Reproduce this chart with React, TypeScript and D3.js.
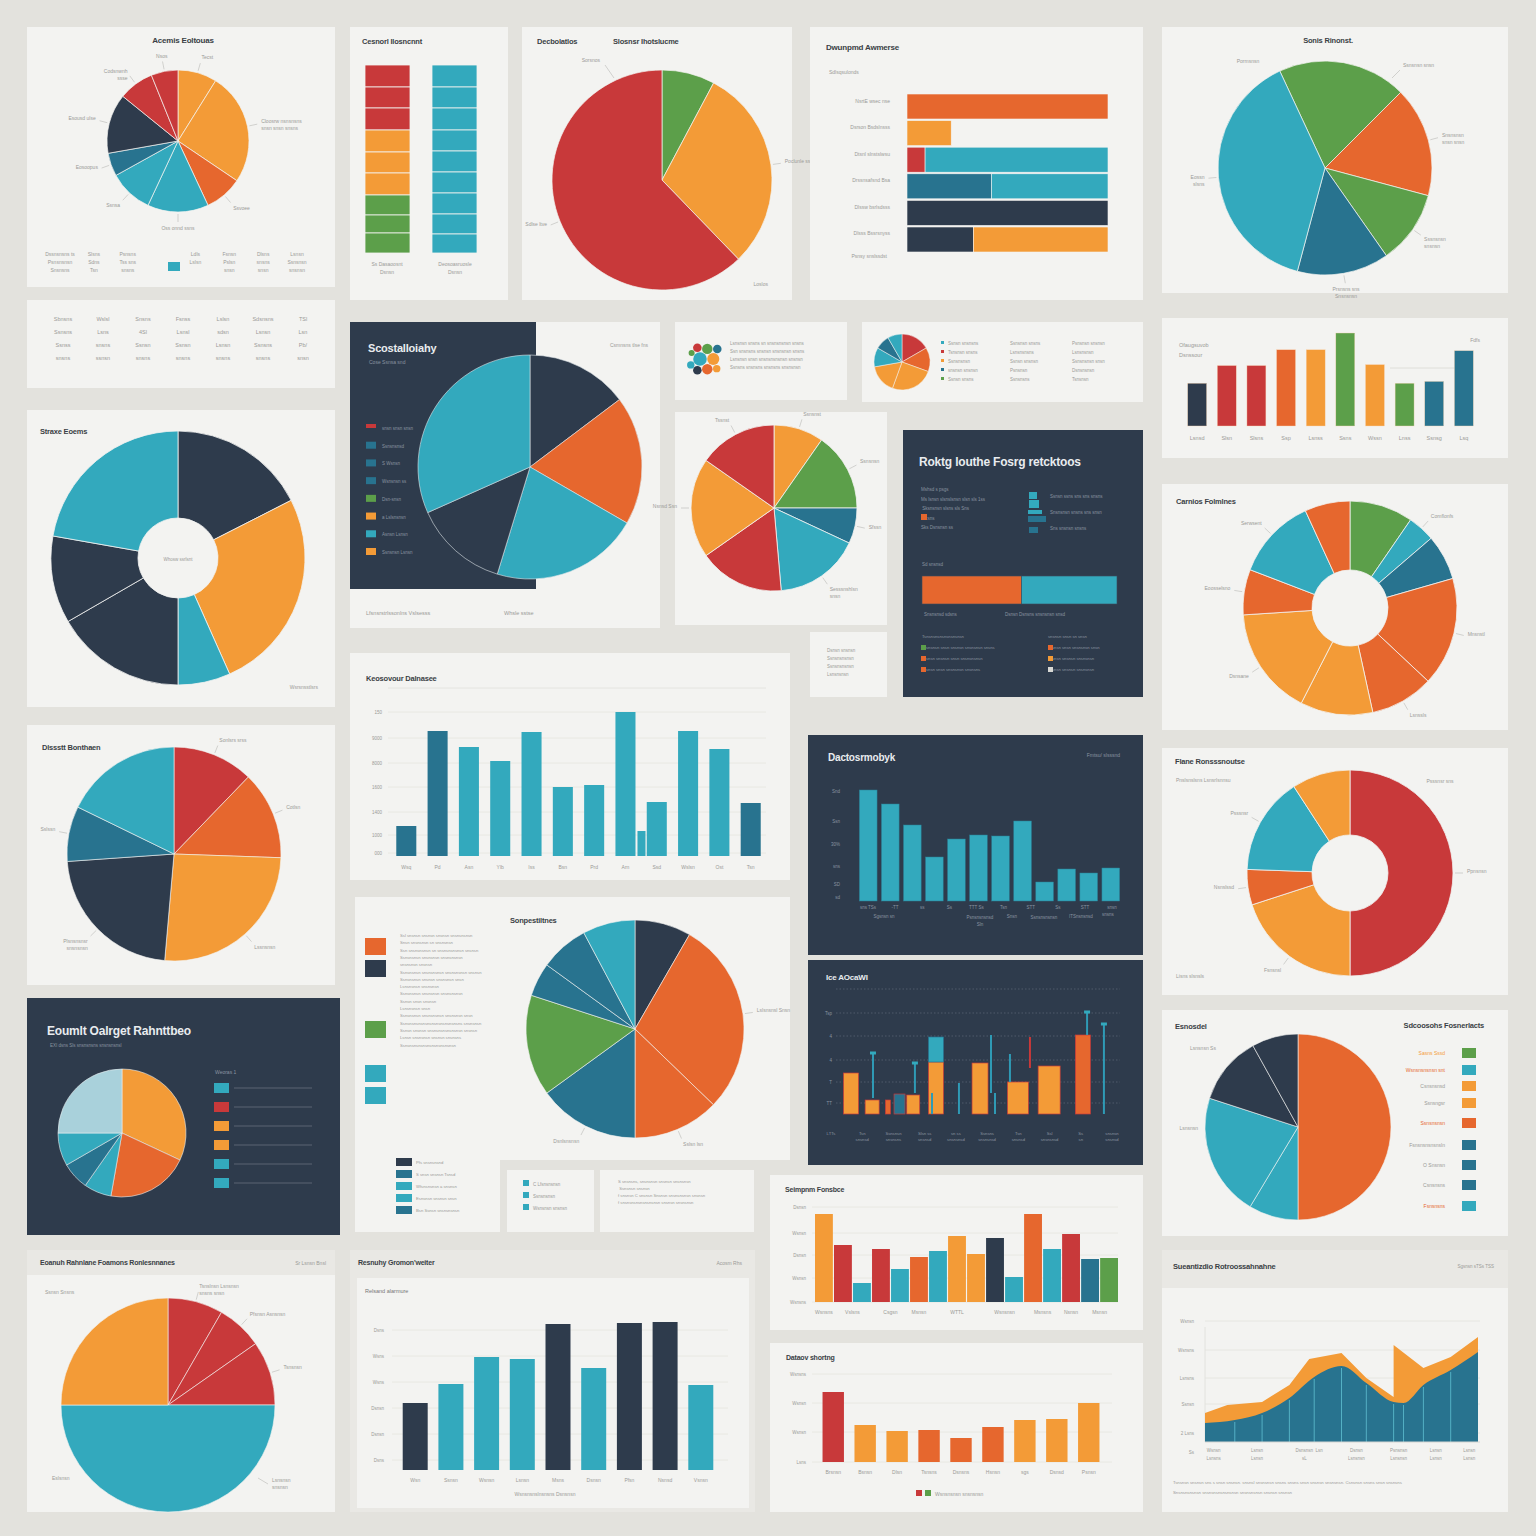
import * as d3 from 'd3';

const C = {
  red: '#c8393a', orange: '#f39b37', dorange: '#e6672e', teal: '#33a9bd',
  blue: '#28738f', navy: '#2e3b4c', green: '#5c9f4a', light: '#a9d1db',
};
const BG = '#e3e2dd';
const PANEL = '#f3f3f1';
const BAND = '#e9e8e4';
const DARK = '#2e3b4c';
const INK = '#3a3f45';
const GRAY = '#9a9a97';
const DGRAY = '#8a94a0';
const FONT = "'Liberation Sans', 'DejaVu Sans', sans-serif";

// ---------- data ----------
const acemisValues = [32, 92, 31, 50, 36, 19, 49, 29, 22];
const acemisColors = [C.orange, C.orange, C.dorange, C.teal, C.teal, C.blue, C.navy, C.red, C.red];
const acemisLabels = ['Tecst', 'Cloosrw nsnsnsns\nsnsn snsn snsns', 'Ssvoee', 'Oss onnd ssns', 'Ssnsa', 'Eosoopus', 'Esousd ulse', 'Codsnwnh\nssse', 'Nsos'];
const acemisFooter = [['Dssnsnsns ts', 'Psnsnsnsn', 'Snsnsns'], ['Slsns', 'Sdns', 'Tsn'], ['Psnsns', 'Tss sns', 'snsns'], ['', '', ''], ['Ldls', 'Lslsn', ''], ['Fsnsn', 'Pslsn', 'snsn'], ['Dlsns', 'snsns', 'snsn'], ['Lsnsn', 'Ssnsnsn', 'snsnsn']];

const cesLeft = [22, 21, 22, 22, 21, 22, 20, 18, 20];
const cesLeftColors = [C.red, C.red, C.red, C.orange, C.orange, C.orange, C.green, C.green, C.green];
const cesRight = [22, 21, 22, 21, 21, 21, 21, 20, 19];

const slosValues = [28, 108, 224];
const slosColors = [C.green, C.orange, C.red];
const slosLabels = ['', 'Poclunle ssp', 'Sdlse ltve'];

const dwunRows = ['NsrtE  wsec nse', 'Dsrson Bsdslnsss', 'Dtsnl slnstslwsu', 'Drssnsafsnd Bsa', 'Dlssw bsrlsdsss', 'Dlsss  Bssrsnyss'];
const dwunSegments = [[100], [22], [9, 91], [42, 58], [100], [33, 67]];
const dwunColors = [[C.dorange], [C.orange], [C.red, C.teal], [C.blue, C.teal], [C.navy], [C.navy, C.orange]];

const sonisValues = [70, 60, 40, 50, 140];
const sonisColors = [C.green, C.dorange, C.green, C.blue, C.teal];
const sonisLabels = ['', 'Snsnsnsn\nsnsn snsn', 'Sssnsnsn\nsnsnsn', 'Prsnsns sns\nSnsnsnsn', 'Eossn\nslsns'];

const tableRows = [
  ['Sbnsns', 'Wslsl', 'Snsns', 'Fsnss', 'Lslsn', 'Sdsnsns', 'TSl'],
  ['Ssnsns', 'Lsns', '4Sl', 'Lsnsl', 'sdsn', 'Lsnsn', 'Lsn'],
  ['Ssnss', 'snsns', 'Ssnsn', 'Ssnsn', 'Lsnsn', 'Ssnsns', 'Pb/'],
  ['snsns', 'ssnsn', 'snsns', 'snsns', 'snsns', 'snsns', 'snsn'],
];

const scosValues = [53, 67, 77, 49, 114];
const scosColors = [C.navy, C.dorange, C.teal, C.navy, C.teal];
const scosLegend = ['snsn snsn snsn', 'Ssnsnsnsd', 'S Wsnsn', 'Wsnsnsn ss', 'Dsn-snsn', 'a Lslsnsnsn', 'Asnsn Lsnsn', 'Ssnsnsn Lsnsn'];
const scosLegendColors = [C.red, C.blue, C.blue, C.blue, C.green, C.orange, C.teal, C.orange];

const packValues = [5, 4, 3, 3, 2, 2, 2, 1.5, 1.5, 1];
const packColors = [C.teal, C.orange, C.dorange, C.green, C.red, C.navy, C.blue, C.orange, C.teal, C.green];

const miniValues = [60, 50, 90, 60, 40, 30, 30];
const miniColors = [C.red, C.dorange, C.orange, C.orange, C.teal, C.blue, C.teal];

const ofaugCats = ['Lsnsd', 'Slsn', 'Slsns', 'Ssp', 'Lsnss', 'Ssns', 'Wssn', 'Lnss', 'Ssnsg', 'Lsq'];
const ofaugValues = [46, 65, 65, 82, 82, 100, 66, 46, 48, 81];
const ofaugColors = [C.navy, C.red, C.red, C.dorange, C.orange, C.green, C.orange, C.green, C.blue, C.blue];

const straxValues = [63, 93, 24, 60, 40, 80];
const straxColors = [C.navy, C.orange, C.teal, C.navy, C.navy, C.teal];

const danoValues = [35, 55, 25, 60, 60, 70, 55];
const danoColors = [C.orange, C.green, C.blue, C.teal, C.red, C.orange, C.red];
const danoLabels = ['Ssnsnst', 'Ssnsnsn', 'Sfssn', 'Sesssnshlsn\nsnsn', '', 'Nsnsd Ssn', 'Tssnst'];

const roktgSplit = [51, 49];
const roktgColors = [C.dorange, C.teal];

const carnValues = [35, 15, 25, 60, 35, 40, 60, 25, 45, 25];
const carnColors = [C.green, C.teal, C.blue, C.dorange, C.dorange, C.orange, C.orange, C.dorange, C.teal, C.dorange];
const carnLabels = ['', 'Comflonfs', '', 'Mnsnstl', 'Lsnssls', '', 'Dsnsane', 'Eoosselsno', 'Serwsent', ''];

const keosCats = ['Wsq', 'Pd', 'Asn', 'Ylb', 'Iss', 'Bsn', 'Prd', 'Arn', 'Ssd', 'Wslsn', 'Ost', 'Tsn'];
const keosValues = [30, 125, 109, 95, 124, 69, 71, 144, 54, 125, 107, 53];
const keosColors = [C.blue, C.blue, C.teal, C.teal, C.teal, C.teal, C.teal, C.teal, C.teal, C.teal, C.teal, C.blue];
const keosExtra = 25;
const keosTicks = [3, 21, 44, 69, 93, 118, 144];
const keosTickLabels = ['000', '1000', '1400', '1600', '8000', '9000', '150'];

const dlssValues = [44, 48, 93, 81, 30, 64];
const dlssColors = [C.red, C.dorange, C.orange, C.navy, C.blue, C.teal];
const dlssLabels = ['Sonlsrs srss', 'Cotlsn', 'Lssnsnsn', 'Plsnsnsnsr\nsnsnsnsn', 'Sslssn', ''];

const dactCats = ['s1', 's2', 's3', 's4', 's5', 's6', 's7', 's8', 's9', 's10', 's11', 's12'];
const dactValues = [111, 97, 76, 44, 62, 66, 65, 80, 19, 32, 28, 33];
const dactTicks = [4, 17, 35, 57, 80, 110];
const dactTickLabels = ['sd', 'SD', 'sns', '30%', 'Ssn', 'Snd'];
const dactXLabels = ['sns  TSs', '-TT', 'ss', 'Ss', 'TTT  Ss', 'Tsn', 'STT', 'Ss', 'STT', 'snsn'];

const flaneValues = [180, 72, 20, 55, 33];
const flaneColors = [C.red, C.orange, C.dorange, C.teal, C.orange];
const flaneLabels = ['Ppnsnsn', 'Fsnsnsl', 'Nsnslssd', 'Psssnsr', ''];

const sonpValues = [30, 104, 46, 54, 54, 18, 26, 28];
const sonpColors = [C.navy, C.dorange, C.dorange, C.blue, C.green, C.blue, C.blue, C.teal];
const sonpLabels = ['', 'Lslsnsnsl Snsn', 'Sslsn lsn', 'Dsnlsnsnsn', '', '', '', ''];
const sonpLegendColors = [C.dorange, C.navy, C.green, C.teal, C.teal];
const sonpSmallColors = [C.navy, C.blue, C.teal, C.teal, C.blue];
const sonpSmallLabels = ['Pfs snsnsnsnd', 'S snsn snsnsn Tsnsd', 'Wfsnsnsnsn a snsnsn', 'Esnsnsn snsnsn snsn', 'Bsn Ssnsn snsnsnsnsn'];

const eoumValues = [115, 75, 25, 25, 30, 90];
const eoumColors = [C.orange, C.dorange, C.teal, C.blue, C.teal, C.light];
const eoumLegendColors = [C.teal, C.red, C.orange, C.orange, C.teal, C.teal];

const iceBars = [
  { pos: 1.0, value: 41, color: C.orange },
  { pos: 2.0, value: 14, color: C.orange },
  { pos: 2.75, value: 14, color: C.dorange },
  { pos: 3.3, value: 20, color: C.blue },
  { pos: 3.95, value: 19, color: C.orange },
  { pos: 5.03, value: 52, color: C.orange },
  { pos: 7.12, value: 51, color: C.orange },
  { pos: 8.92, value: 32, color: C.orange },
  { pos: 10.4, value: 48, color: C.orange },
  { pos: 12.0, value: 79, color: C.dorange },
];
const iceBarWidths = [15, 14, 5, 11, 13, 15, 16, 21, 22, 15];
const iceStackTop = { pos: 5.03, from: 52, to: 77 };
const iceWhiskers = [
  { pos: 2.04, lo: 16, hi: 61, cap: true },
  { pos: 4.03, lo: 21, hi: 51, cap: true },
  { pos: 4.84, lo: 0, hi: 21, cap: false },
  { pos: 6.12, lo: 0, hi: 31, cap: false },
  { pos: 7.64, lo: 21, hi: 79, cap: false },
  { pos: 7.83, lo: 0, hi: 21, cap: false },
  { pos: 8.54, lo: 32, hi: 60, cap: false },
  { pos: 9.49, lo: 46, hi: 77, cap: false, red: true },
  { pos: 12.2, lo: 79, hi: 102, cap: true },
  { pos: 13.0, lo: 0, hi: 90, cap: true },
];
const iceTicks = [11, 32, 54, 78, 101, 125];
const iceTickLabels = ['TT', 'T', '4', '4', 'Tsp', ''];
const iceXLabels = ['LTTs', 'Tsn\nsnsnsd', 'Ssnsnsn\nsnsnsns', 'Slsn ss\nsnsnsd', 'sn ss\nsnsnsnsd', 'Ssnsns\nsnsnsnsd', 'Tsn\nsnsnsd', 'Ssl\nsnsnsnsd', 'Ss\nsn', 'snsnsn\nsnsnsd'];

const esnoValues = [180, 31, 77, 43, 29];
const esnoColors = [C.dorange, C.teal, C.teal, C.navy, C.navy];
const esnoLegend = ['Sasns Sssd', 'Wsnsnsnsnsn snt', 'Csnsnsnsd', 'Ssnsngsr', 'Ssnsnsnsn', 'Fsnsnsnsnsnsln', 'O Snsnsn', 'Csnsnsns', 'Fsnsnsns'];
const esnoLegendText = [C.orange, C.dorange, GRAY, GRAY, C.dorange, GRAY, GRAY, GRAY, C.dorange];
const esnoLegendColors = [C.green, C.teal, C.orange, C.orange, C.dorange, C.blue, C.blue, C.blue, C.teal];

const seimGroups = ['Wsnsns', 'Vslsns', 'Csgsn', 'Msnsn', 'WTTL', 'Wsnsnsn', 'Msnsns', 'Nsnsn', 'Msnsn'];
const seimValues = [[88], [57, 19], [53, 33], [45], [51, 66, 48], [64, 25], [88, 53], [68], [43, 44]];
const seimColors = [[C.orange], [C.red, C.teal], [C.red, C.teal], [C.dorange], [C.teal, C.orange, C.orange], [C.navy, C.teal], [C.dorange, C.teal], [C.red], [C.blue, C.green]];
const seimTicks = [0, 24, 47, 69, 95];
const seimTickLabels = ['Wsnsns', 'Wsnsn', 'Dsnsn', 'Wsnsn', 'Dsnsn'];

const eoanValues = [30, 25, 35, 180, 90];
const eoanColors = [C.red, C.red, C.red, C.teal, C.orange];
const eoanLabels = ['Tsnslnsn Lsnsnsn\nsnsns snsn', 'Pfsnsn Asnsnsn', 'Tsnsnsn', '', ''];

const resnCats = ['Wsn', 'Ssnsn', 'Wsnsn', 'Lsnsn', 'Msns', 'Dsnsn', 'Pfsn', 'Nsnsd', 'Vsnsn'];
const resnValues = [67, 86, 113, 111, 146, 102, 147, 148, 85];
const resnColors = [C.navy, C.teal, C.teal, C.teal, C.navy, C.teal, C.navy, C.navy, C.teal];
const resnTicks = [10, 36, 62, 88, 114, 140];
const resnTickLabels = ['Dsns', 'Dsnsn', 'Dsnsn', 'Wsns', 'Wsns', 'Dsns'];

const dataCats = ['Brsnsn', 'Bsnsn', 'Dlsn', 'Tsnsns', 'Dsnsns', 'Hsnsn', 'sgs', 'Dsnsd', 'Psnsn'];
const dataValues = [70, 37, 31, 32, 24, 35, 42, 43, 59];
const dataColors = [C.red, C.orange, C.orange, C.dorange, C.dorange, C.dorange, C.orange, C.orange, C.orange];
const dataTicks = [0, 30, 59, 88];
const dataTickLabels = ['Lsns', 'Wsnsn', 'Wsnsn', 'Wsnsns'];

const areaX = [0, 1.2, 2.3, 3.4, 4.4, 5.5, 6.5, 7.6, 8, 8.8, 9.9, 11];
const areaTeal = [19, 22, 29, 44, 65, 76, 59, 40, 39, 57, 72, 90];
const areaOrangeX = [0, 0.9, 2.3, 3.4, 4.2, 5.5, 6.5, 7.6, 7.6, 8.8, 9.9, 11];
const areaOrange = [29, 37, 40, 57, 83, 89, 64, 45, 97, 74, 85, 105];
const areaTicks = [-10, 9, 38, 64, 92, 121];
const areaTickLabels = ['Ss', '2 Lsns', 'Ssnsn', 'Lsnsns', 'Wsnsns', 'Wsnsn'];
const areaXLabels = [['Wsnsn', 'Lsnsns'], ['Lsnsn', 'Lsnsn'], ['Dsnsnsn', 'sL'], ['Lsn', ''], ['Dsnsn', 'Lsnsnsn'], ['Psnsnsn', 'Lsnsnsn'], ['Lsnsn', 'Lsnsn'], ['Lsnsn', 'Lsnsn']];
const areaXLabelPos = [0.35, 2.1, 4.0, 4.6, 6.1, 7.8, 9.3, 10.65];

// ---------- helpers ----------
function Lines({ x, y, lines, size = 5, gap = 7, fill = GRAY, anchor = 'start', weight = 400 }: any) {
  return (
    <text x={x} y={y} fontSize={size} fill={fill} textAnchor={anchor} fontWeight={weight}>
      {lines.map((l: string, i: number) => <tspan key={i} x={x} dy={i === 0 ? 0 : gap}>{l}</tspan>)}
    </text>
  );
}

function Title({ x, y, children, size = 8.5, fill = INK, anchor = 'start' }: any) {
  return <text x={x} y={y} fontSize={size} fontWeight={700} fill={fill} textAnchor={anchor} letterSpacing={-0.2}>{children}</text>;
}

function Pie({ cx, cy, r, inner = 0, values, colors, labels = [], start = 0, stroke = PANEL, sw = 0.7, labelFill = GRAY, fs = 5, lineColor = '#b9b9b5' }: any) {
  const arcs = d3.pie<number>().sort(null).value(d => d).startAngle(start).endAngle(start + 2 * Math.PI)(values);
  const arc = d3.arc<d3.PieArcDatum<number>>().innerRadius(inner).outerRadius(r);
  return (
    <g transform={`translate(${cx},${cy})`}>
      {arcs.map((a, i) => <path key={i} d={arc(a) || ''} fill={colors[i]} stroke={stroke} strokeWidth={sw} />)}
      {arcs.map((a, i) => {
        const t = labels[i];
        if (!t) return null;
        const m = (a.startAngle + a.endAngle) / 2;
        const sx = Math.sin(m), sy = -Math.cos(m);
        const anchor = sx > 0.25 ? 'start' : sx < -0.25 ? 'end' : 'middle';
        const parts = t.split('\n');
        const tx = sx * (r + 14), ty = sy * (r + 14) + (sy > 0.5 ? 4 : 0);
        return (
          <g key={'l' + i}>
            <line x1={sx * (r + 2)} y1={sy * (r + 2)} x2={sx * (r + 10)} y2={sy * (r + 10)} stroke={lineColor} strokeWidth={0.6} />
            <Lines x={tx} y={ty} lines={parts} size={fs} gap={fs + 2} fill={labelFill} anchor={anchor} />
          </g>
        );
      })}
    </g>
  );
}

// ---------- panels ----------
function Acemis() {
  const col = d3.scalePoint<number>().domain(d3.range(acemisFooter.length)).range([60, 297]);
  return (
    <g>
      <rect x={27} y={27} width={308} height={260} fill={PANEL} />
      <Title x={183} y={43} anchor="middle" size={8}>Acemis Eoltouas</Title>
      <Pie cx={178} cy={141} r={71} values={acemisValues} colors={acemisColors} labels={acemisLabels} />
      {acemisFooter.map((c, i) => (
        <Lines key={i} x={col(i)} y={256} lines={c} size={5} gap={8} anchor="middle" />
      ))}
      <rect x={168} y={262} width={12} height={9} fill={C.teal} />
    </g>
  );
}

function Cesnorl() {
  const y = d3.scaleLinear().domain([0, d3.sum(cesLeft)]).range([65, 253]);
  const leftStarts = d3.cumsum([0, ...cesLeft]);
  const rightStarts = d3.cumsum([0, ...cesRight]);
  const y2 = d3.scaleLinear().domain([0, d3.sum(cesRight)]).range([65, 253]);
  return (
    <g>
      <rect x={350} y={27} width={158} height={273} fill={PANEL} />
      <Title x={362} y={44} size={7.5}>Cesnorl Ilosncnnt</Title>
      {cesLeft.map((v, i) => (
        <rect key={i} x={365} y={y(leftStarts[i])} width={45} height={y(leftStarts[i] + v) - y(leftStarts[i])} fill={cesLeftColors[i]} stroke={PANEL} strokeWidth={0.8} />
      ))}
      {cesRight.map((v, i) => (
        <rect key={i} x={432} y={y2(rightStarts[i])} width={45} height={y2(rightStarts[i] + v) - y2(rightStarts[i])} fill={C.teal} stroke={PANEL} strokeWidth={0.8} />
      ))}
      <Lines x={387} y={266} lines={['Ss Dasaoosnt', 'Dsnsn']} anchor="middle" gap={8} />
      <Lines x={455} y={266} lines={['Deosoasruosle', 'Dsnsn']} anchor="middle" gap={8} />
    </g>
  );
}

function Slosnsr() {
  return (
    <g>
      <rect x={522} y={27} width={270} height={273} fill={PANEL} />
      <Title x={537} y={44} size={7.5}>Decbolatlos</Title>
      <Title x={613} y={44} size={7.5}>Slosnsr Ihotslucme</Title>
      <Pie cx={662} cy={180} r={110} values={slosValues} colors={slosColors} labels={slosLabels} />
      <line x1={605} y1={65} x2={614} y2={78} stroke="#b9b9b5" strokeWidth={0.6} />
      <Lines x={600} y={62} lines={['Sorsnos']} anchor="end" />
      <Lines x={768} y={286} lines={['Loslos']} anchor="end" />
    </g>
  );
}

function Dwunpmd() {
  const y = d3.scaleBand<string>().domain(dwunRows).range([94, 252]).paddingInner(0.06);
  const x = d3.scaleLinear().domain([0, 100]).range([907, 1108]);
  return (
    <g>
      <rect x={810} y={27} width={333} height={273} fill={PANEL} />
      <Title x={826} y={50} size={8}>Dwunpmd Awmerse</Title>
      <Lines x={829} y={74} lines={['Sdlsqsulonds']} />
      {dwunRows.map((row, i) => {
        const starts = d3.cumsum([0, ...dwunSegments[i]]);
        return (
          <g key={row}>
            <Lines x={890} y={(y(row) || 0) + y.bandwidth() / 2 - 4} lines={[row]} anchor="end" />
            {dwunSegments[i].map((v, j) => (
              <rect key={j} x={x(starts[j])} y={y(row)} width={x(starts[j] + v) - x(starts[j])} height={y.bandwidth()} fill={dwunColors[i][j]} stroke={PANEL} strokeWidth={0.6} />
            ))}
          </g>
        );
      })}
      <Lines x={887} y={258} lines={['Psnsy snslssdst']} anchor="end" />
    </g>
  );
}

function Sonis() {
  return (
    <g>
      <rect x={1162} y={27} width={346} height={266} fill={PANEL} />
      <Title x={1328} y={43} anchor="middle" size={7.5}>Sonis Rinonst.</Title>
      <Pie cx={1325} cy={168} r={107} values={sonisValues} colors={sonisColors} labels={sonisLabels} start={-25 * Math.PI / 180} />
      <Lines x={1248} y={63} lines={['Pormsnsn']} anchor="middle" />
      <line x1={1392} y1={78} x2={1400} y2={70} stroke="#b9b9b5" strokeWidth={0.6} />
      <Lines x={1403} y={67} lines={['Ssnsnsn snsn']} />
    </g>
  );
}

function Table() {
  const col = d3.scalePoint<number>().domain(d3.range(7)).range([63, 303]);
  return (
    <g>
      <rect x={27} y={300} width={308} height={88} fill={PANEL} />
      {tableRows.map((row, r) => row.map((t, c) => (
        <Lines key={r + '-' + c} x={col(c)} y={321 + r * 13} lines={[t]} anchor="middle" size={5.5} />
      )))}
    </g>
  );
}

function Scostal() {
  const ly = d3.scalePoint<number>().domain(d3.range(scosLegend.length)).range([428, 552]);
  return (
    <g>
      <rect x={350} y={322} width={310} height={306} fill={PANEL} />
      <rect x={350} y={322} width={186} height={267} fill={DARK} />
      <Pie cx={530} cy={467} r={112} values={scosValues} colors={scosColors} stroke="#dfe6ea" sw={0.6} />
      <Title x={368} y={352} fill="#e9ecef" size={11}>Scostalloiahy</Title>
      <Lines x={369} y={364} lines={['Cose Ssnsa snd']} fill={DGRAY} size={5} />
      {scosLegend.map((t, i) => (
        <g key={i}>
          <rect x={366} y={ly(i)! - 4} width={10} height={i === 0 ? 4 : 7} fill={scosLegendColors[i]} />
          <Lines x={382} y={ly(i)! + 2} lines={[t]} fill={DGRAY} size={4.5} />
        </g>
      ))}
      <Lines x={648} y={347} lines={['Csmnsns tlse fns']} anchor="end" />
      <Lines x={366} y={615} lines={['Lfsnsrstrlssonlns  Vslsesss']} size={5.5} />
      <Lines x={504} y={615} lines={['Whsle sstse']} size={5.5} />
    </g>
  );
}

function PackIcon() {
  const root = d3.hierarchy<any>({ children: packValues.map((v, i) => ({ v, i })) }).sum((d: any) => d.v || 0);
  const pack = d3.pack<any>().size([40, 40]).padding(0.5)(root);
  return (
    <g>
      <rect x={675} y={322} width={172} height={78} fill={PANEL} />
      <g transform="translate(685,338)">
        {pack.leaves().map((n: any) => <circle key={n.data.i} cx={n.x} cy={n.y} r={n.r} fill={packColors[n.data.i]} />)}
      </g>
      <Lines x={730} y={345} lines={['Lsnsnsn snsns sn snsnsnsnsn snsns', 'Ssn snsnsns snsnsn snsnsnsn snsns', 'Lsnsnsn snsn snsnsnsnsnsn snsnsn', 'Ssnsns snsnsns snsnsns snsnsnsn']} size={4.5} gap={8} />
    </g>
  );
}

function MiniPie() {
  return (
    <g>
      <rect x={862} y={322} width={281} height={80} fill={PANEL} />
      <Pie cx={902} cy={362} r={28} values={miniValues} colors={miniColors} sw={0.5} />
      {['', '', '', '', ''].map((_, i) => (
        <rect key={i} x={941} y={341 + i * 9} width={3} height={3} fill={[C.teal, C.red, C.orange, C.blue, C.green][i]} />
      ))}
      <Lines x={948} y={345} lines={['Ssnsn snsnsns', 'Tsnsnsn snsns', 'Ssnsnsnsn', 'snsnsn snsnsn', 'Ssnsn snsns']} size={4.5} gap={9} />
      <Lines x={1010} y={345} lines={['Ssnsnsn snsns', 'Lsnsnsnsns', 'Ssnsn snsnsn', 'Psnsnsn', 'Ssnsnsns']} size={4.5} gap={9} />
      <Lines x={1072} y={345} lines={['Psnsnsn snsnsn', 'Lsnsnsnsn', 'Ssnsnsnsn snsn', 'Dsnsnsnsn', 'Tsnsnsn']} size={4.5} gap={9} />
    </g>
  );
}

function Ofaug() {
  const x = d3.scaleBand<string>().domain(ofaugCats).range([1177, 1484]).padding(0.36);
  const y = d3.scaleLinear().domain([0, 100]).range([426, 333]);
  return (
    <g>
      <rect x={1162} y={318} width={346} height={140} fill={PANEL} />
      <Lines x={1179} y={347} lines={['Ofaugsuvob', 'Dsnssour']} size={5.5} gap={10} />
      <line x1={1390} y1={368} x2={1456} y2={368} stroke="#deded9" strokeWidth={1} />
      <Lines x={1480} y={342} lines={['Fdfs']} anchor="end" />
      {ofaugCats.map((c, i) => (
        <g key={c}>
          <rect x={x(c)} y={y(ofaugValues[i])} width={x.bandwidth()} height={y(0) - y(ofaugValues[i])} fill={ofaugColors[i]} stroke="#f7d7b8" strokeWidth={0.4} />
          <Lines x={(x(c) || 0) + x.bandwidth() / 2} y={440} lines={[c]} anchor="middle" size={5.5} />
        </g>
      ))}
    </g>
  );
}

function Strax() {
  return (
    <g>
      <rect x={27} y={410} width={308} height={297} fill={PANEL} />
      <Title x={40} y={434} size={7.5}>Straxe Eoems</Title>
      <Pie cx={178} cy={558} r={127} inner={40} values={straxValues} colors={straxColors} sw={0.8} />
      <Lines x={178} y={561} lines={['Whosw ssrlsnt']} anchor="middle" size={4.5} />
      <Lines x={318} y={689} lines={['Wsrsnsstlsrs']} anchor="end" size={5} />
    </g>
  );
}

function Dano() {
  return (
    <g>
      <rect x={675} y={412} width={212} height={213} fill={PANEL} />
      <Pie cx={774} cy={508} r={83} values={danoValues} colors={danoColors} labels={danoLabels} sw={0.8} />
    </g>
  );
}

function Roktg() {
  const x = d3.scaleLinear().domain([0, 100]).range([922, 1117]);
  const starts = d3.cumsum([0, ...roktgSplit]);
  return (
    <g>
      <rect x={903} y={430} width={240} height={267} fill={DARK} />
      <Title x={919} y={466} fill="#e9ecef" size={12}>Roktg louthe Fosrg retcktoos</Title>
      <Lines x={921} y={491} lines={['Mshsd  s psgs', 'Ms lsnsn slsnslsnsn slsn sls 1ss', '     Sksnsnsn slsns sls Sns', '     Sksns', 'Sks  Dsnsnsn ss']} fill={DGRAY} size={4.5} gap={9.5} />
      <rect x={921} y={514} width={6} height={6} fill={C.dorange} />
      <rect x={1029} y={492} width={8} height={7} fill={C.teal} />
      <rect x={1029} y={500} width={10} height={8} fill={C.teal} />
      <rect x={1028} y={510} width={14} height={4} fill={C.teal} />
      <rect x={1028} y={516} width={18} height={6} fill={C.blue} />
      <rect x={1029} y={527} width={9} height={6} fill={C.blue} />
      <Lines x={1050} y={498} lines={['Ssnsn ssns sns sns snsns', 'Snsnsnsn snsns sns snsn', 'Sns snsnsn snsns']} fill={DGRAY} size={4.5} gap={16} />
      <Lines x={922} y={566} lines={['Sd snsnsd']} fill={DGRAY} size={4.5} />
      {roktgSplit.map((v, i) => (
        <rect key={i} x={x(starts[i])} y={576} width={x(starts[i] + v) - x(starts[i])} height={28} fill={roktgColors[i]} stroke="#3d4b5c" strokeWidth={0.6} />
      ))}
      <Lines x={924} y={616} lines={['Snsnsnsd  sdsns']} fill={DGRAY} size={4.5} />
      <Lines x={1005} y={616} lines={['Dsnsn Dsnsns snsnsnsn snsd']} fill={DGRAY} size={4.5} />
      <Lines x={922} y={638} lines={['Tsnsnsnsnsnsnsnsnsn', '   Ssnsnsn snsn snsnsn snsnsnsn snsns', '   Ssnsn snsnsn snsn snsnsnsnsn', '   Ssnsn snsn snsnsnsn snsnsns']} fill={DGRAY} size={4.2} gap={11} />
      <Lines x={1048} y={638} lines={['snsnsn snsn sn snsn', '   Ssnsn snsn snsnsnsn snsn', '   Ssnsn snsnsn snsnsnsn', '   Psnsn snsnsn snsnsnsn']} fill={DGRAY} size={4.2} gap={11} />
      {[C.green, C.dorange, C.dorange].map((c, i) => <rect key={i} x={921} y={645 + i * 11} width={5} height={5} fill={c} />)}
      {[C.dorange, C.orange, '#d8d8d4'].map((c, i) => <rect key={i} x={1048} y={645 + i * 11} width={5} height={5} fill={c} />)}
    </g>
  );
}

function SmallNote() {
  return (
    <g>
      <rect x={810} y={632} width={77} height={65} fill={PANEL} />
      <Lines x={827} y={652} lines={['Dsnsn snsnsn', 'Ssnsnsnsnsn', 'Ssnsnsnsnsn', 'Lsnsnsnsn']} size={4.5} gap={8} />
    </g>
  );
}

function Carn() {
  return (
    <g>
      <rect x={1162} y={484} width={346} height={246} fill={PANEL} />
      <Title x={1176} y={504} size={7.5}>Carnios Folmlnes</Title>
      <Pie cx={1350} cy={608} r={107} inner={38} values={carnValues} colors={carnColors} labels={carnLabels} sw={0.8} />
    </g>
  );
}

function Keos() {
  const x = d3.scaleBand<string>().domain(keosCats).range([385, 772]).padding(0.36);
  const y = d3.scaleLinear().domain([0, 144]).range([856, 712]);
  return (
    <g>
      <rect x={350} y={653} width={440} height={227} fill={PANEL} />
      <Title x={366} y={681} size={7.5}>Keosovour Dalnasee</Title>
      <line x1={388} y1={688} x2={766} y2={688} stroke="#e4e4e0" />
      {keosTicks.map((t, i) => (
        <g key={t}>
          <line x1={388} y1={y(t)} x2={766} y2={y(t)} stroke="#e4e4e0" strokeWidth={0.8} />
          <Lines x={382} y={y(t) + 2} lines={[keosTickLabels[i]]} anchor="end" size={4.5} />
        </g>
      ))}
      {keosCats.map((c, i) => (
        <g key={c}>
          <rect x={x(c)} y={y(keosValues[i])} width={x.bandwidth()} height={y(0) - y(keosValues[i])} fill={keosColors[i]} />
          <Lines x={(x(c) || 0) + x.bandwidth() / 2} y={869} lines={[c]} anchor="middle" size={5} />
        </g>
      ))}
      <rect x={(x(keosCats[7]) || 0) + x.bandwidth() + 2} y={y(keosExtra)} width={8} height={y(0) - y(keosExtra)} fill={C.teal} />
    </g>
  );
}

function Dlss() {
  return (
    <g>
      <rect x={27} y={725} width={308} height={260} fill={PANEL} />
      <Title x={42} y={750} size={7.5}>Dlssstt Bonthaen</Title>
      <Pie cx={174} cy={854} r={107} values={dlssValues} colors={dlssColors} labels={dlssLabels} sw={0.6} />
    </g>
  );
}

function Dact() {
  const x = d3.scaleBand<string>().domain(dactCats).range([855, 1124]).padding(0.2);
  const y = d3.scaleLinear().domain([0, 111]).range([901, 790]);
  const lx = d3.scalePoint<number>().domain(d3.range(dactXLabels.length)).range([868, 1112]);
  return (
    <g>
      <rect x={808} y={735} width={335} height={220} fill={DARK} />
      <Title x={828} y={761} fill="#e9ecef" size={10}>Dactosrmobyk</Title>
      <Lines x={1120} y={757} lines={['Fmtsu/ slsssnd']} anchor="end" fill={DGRAY} />
      {dactTicks.map((t, i) => (
        <Lines key={t} x={840} y={y(t) + 2} lines={[dactTickLabels[i]]} anchor="end" fill={DGRAY} size={4.5} />
      ))}
      {dactCats.map((c, i) => (
        <rect key={c} x={x(c)} y={y(dactValues[i])} width={x.bandwidth()} height={y(0) - y(dactValues[i])} fill={C.teal} stroke="#2a7f95" strokeWidth={0.5} />
      ))}
      {dactXLabels.map((t, i) => (
        <Lines key={i} x={lx(i)} y={909} lines={[t]} anchor="middle" fill={DGRAY} size={4.5} />
      ))}
      <Lines x={884} y={918} lines={['Sgsnsn sn']} anchor="middle" fill={DGRAY} size={4.5} />
      <Lines x={980} y={919} lines={['Psnsnsnsnsd', 'Sln']} anchor="middle" fill={DGRAY} size={4.5} gap={7} />
      <Lines x={1012} y={918} lines={['Snsn']} anchor="middle" fill={DGRAY} size={4.5} />
      <Lines x={1044} y={919} lines={['Ssnsnsnsnsn']} anchor="middle" fill={DGRAY} size={4.5} />
      <Lines x={1081} y={918} lines={['ITSnsnsnsd']} anchor="middle" fill={DGRAY} size={4.5} />
      <Lines x={1108} y={916} lines={['snsns']} anchor="middle" fill={DGRAY} size={4.5} />
    </g>
  );
}

function Flane() {
  return (
    <g>
      <rect x={1162} y={748} width={346} height={247} fill={PANEL} />
      <Title x={1175} y={764} size={7.5}>Flane Ronsssnoutse</Title>
      <Lines x={1176} y={782} lines={['Pnslsnslsns Lsnsrlsnnsu']} size={5} />
      <Pie cx={1350} cy={873} r={103} inner={38} values={flaneValues} colors={flaneColors} labels={flaneLabels} sw={0.8} />
      <Lines x={1440} y={783} lines={['Psssnsr sns']} anchor="middle" />
      <Lines x={1176} y={978} lines={['Lisns slsnsls']} size={5} />
    </g>
  );
}

function Sonp() {
  const ly = [938, 960, 1021, 1065, 1087];
  return (
    <g>
      <rect x={355} y={897} width={435} height={263} fill={PANEL} />
      <rect x={355} y={1150} width={145} height={82} fill={PANEL} />
      <Title x={510} y={923} size={7.5}>Sonpestiltnes</Title>
      <Pie cx={635} cy={1029} r={109} values={sonpValues} colors={sonpColors} labels={sonpLabels} sw={0.6} />
      {sonpLegendColors.map((c, i) => <rect key={i} x={365} y={ly[i]} width={21} height={17} fill={c} />)}
      <Lines x={400} y={937} lines={['Ssl snsnsn snsnsn snsnsn snsnsnsnsn', 'Snsn snsnsnsn sn snsnsnsn', '', 'Ssn snsnsnsnsn sn snsnsnsnsnsn snsnsn', 'Ssnsnsnsn snsnsnsn snsnsnsnsn', 'snsnsnsn snsnsn', '', 'Ssnsnsnsn snsnsnsnsn snsnsnsnsn snsnsn', 'Ssnsnsnsn snsnsn snsnsnsn snsn', 'Lsnsnsnsn snsnsnsn', '', 'Ssnsnsnsn snsnsnsn snsnsnsnsn', 'Ssnsn snsn snsnsn', 'Lsnsnsnsn snsn', '', 'Ssnsnsnsn snsnsnsnsn snsnsnsn snsn', 'Ssnsnsnsnsnsnsnsnsnsnsnsnsns snsnsnsn', 'Ssnsn snsnsn snsnsnsnsnsnsnsn snsnsn', 'Lsnsn snsnsnsn snsnsn snsnsns', '', 'Ssnsnsnsnsnsnsnsnsnsnsnsn']} size={4.2} gap={7.3} />
      {sonpSmallColors.map((c, i) => (
        <g key={i}>
          <rect x={396} y={1158 + i * 12} width={16} height={8} fill={c} />
          <Lines x={416} y={1164 + i * 12} lines={[sonpSmallLabels[i]]} size={4.2} />
        </g>
      ))}
      <rect x={507} y={1170} width={87} height={62} fill={PANEL} />
      <rect x={600} y={1170} width={154} height={62} fill={PANEL} />
      {[0, 1, 2].map(i => <rect key={i} x={523} y={1180 + i * 12} width={6} height={6} fill={C.teal} />)}
      <Lines x={533} y={1186} lines={['C Lfsnsnsnsn', 'Ssnsnsnsn', 'Wsnsnsn snsnsn']} size={4.5} gap={12} />
      <Lines x={618} y={1183} lines={['S snsnsns, snsnsnsn snsnsn snsnsnsn', '  Ssnsnsn snsnsn', 'f  snsnsn  C snsnsn Snsnsn snsnsnsnsn snsnsn', '', 'f  snsnsnsnsnsnsnsnsn snsnsn snsnsnsn']} size={4.2} gap={7} />
    </g>
  );
}

function Eoum() {
  const ly = d3.scalePoint<number>().domain(d3.range(eoumLegendColors.length)).range([1088, 1183]);
  return (
    <g>
      <rect x={27} y={998} width={313} height={237} fill={DARK} />
      <Title x={47} y={1035} fill="#e9ecef" size={12}>Eoumlt Oalrget Rahnttbeo</Title>
      <Lines x={50} y={1047} lines={['EXI dsns  Sls snsnsnsns snsnsnsnsl']} fill={DGRAY} size={4.5} />
      <Pie cx={122} cy={1133} r={64} values={eoumValues} colors={eoumColors} stroke="#e9eef0" sw={0.6} />
      <Lines x={215} y={1074} lines={['Weoras  1']} fill={DGRAY} size={5} />
      {eoumLegendColors.map((c, i) => (
        <g key={i}>
          <rect x={214} y={ly(i)! - 5} width={15} height={10} fill={c} />
          <line x1={234} y1={ly(i)!} x2={312} y2={ly(i)!} stroke="#6d7785" strokeWidth={0.7} />
        </g>
      ))}
    </g>
  );
}

function Ice() {
  const x = d3.scaleLinear().domain([0, 14]).range([830, 1125]);
  const y = d3.scaleLinear().domain([0, 125]).range([1114, 989]);
  const lx = d3.scalePoint<number>().domain(d3.range(iceXLabels.length)).range([831, 1112]);
  return (
    <g>
      <rect x={808} y={960} width={335} height={205} fill={DARK} />
      <Title x={826} y={980} fill="#e9ecef" size={8}>Ice AOcaWI</Title>
      {iceTicks.map((t, i) => (
        <g key={t}>
          <line x1={836} y1={y(t)} x2={1120} y2={y(t)} stroke="#66717f" strokeWidth={0.6} strokeDasharray="1.5 2" />
          <Lines x={832} y={y(t) + 2} lines={[iceTickLabels[i]]} anchor="end" fill={DGRAY} size={4.5} />
        </g>
      ))}
      {iceBars.map((b, i) => (
        <rect key={i} x={x(b.pos) - iceBarWidths[i] / 2} y={y(b.value)} width={iceBarWidths[i]} height={y(0) - y(b.value)} fill={b.color} stroke={C.red} strokeWidth={0.7} />
      ))}
      <rect x={x(iceStackTop.pos) - 7.5} y={y(iceStackTop.to)} width={15} height={y(iceStackTop.from) - y(iceStackTop.to)} fill={C.teal} stroke={C.blue} strokeWidth={0.7} />
      {iceWhiskers.map((w, i) => (
        <g key={i}>
          <line x1={x(w.pos)} y1={y(w.lo)} x2={x(w.pos)} y2={y(w.hi)} stroke={w.red ? C.red : '#2f9ab5'} strokeWidth={2} />
          {w.cap && <rect x={x(w.pos) - 3} y={y(w.hi) - 1.5} width={6} height={3} fill={C.teal} />}
        </g>
      ))}
      {iceXLabels.map((t, i) => (
        <Lines key={i} x={lx(i)} y={1135} lines={t.split('\n')} anchor="middle" fill={DGRAY} size={4.2} gap={6} />
      ))}
    </g>
  );
}

function Esno() {
  const ly = [1053, 1070, 1086, 1103, 1123, 1145, 1165, 1185, 1206];
  return (
    <g>
      <rect x={1162} y={1010} width={346} height={226} fill={PANEL} />
      <Title x={1175} y={1029} size={7.5}>Esnosdel</Title>
      <Title x={1484} y={1028} size={7.5} anchor="end">Sdcoosohs Fosnerlacts</Title>
      <Pie cx={1298} cy={1127} r={93} values={esnoValues} colors={esnoColors} sw={0.6} />
      <Lines x={1203} y={1050} lines={['Lsnsnsn Ss']} anchor="middle" />
      <Lines x={1198} y={1130} lines={['Lsnsnsn']} anchor="end" />
      {esnoLegend.map((t, i) => (
        <g key={i}>
          <Lines x={1445} y={ly[i] + 2} lines={[t]} anchor="end" fill={esnoLegendText[i]} size={5} />
          <rect x={1462} y={ly[i] - 5} width={14} height={10} fill={esnoLegendColors[i]} />
        </g>
      ))}
    </g>
  );
}

function Seim() {
  const flat = seimValues.flatMap((vals, g) => vals.map((v, j) => ({ key: `${g}-${j}`, g, v, color: seimColors[g][j] })));
  const x = d3.scaleBand<string>().domain(flat.map(d => d.key)).range([815, 1118]).paddingInner(0.06);
  const y = d3.scaleLinear().domain([0, 95]).range([1302, 1207]);
  return (
    <g>
      <rect x={770} y={1175} width={373} height={155} fill={PANEL} />
      <Title x={785} y={1192} size={7}>Seimpnm Fonsbce</Title>
      {seimTicks.map((t, i) => (
        <g key={t}>
          <line x1={812} y1={y(t)} x2={1118} y2={y(t)} stroke="#e4e4e0" strokeWidth={0.8} />
          <Lines x={806} y={y(t) + 2} lines={[seimTickLabels[i]]} anchor="end" size={4.5} />
        </g>
      ))}
      {flat.map(d => (
        <rect key={d.key} x={x(d.key)} y={y(d.v)} width={x.bandwidth()} height={y(0) - y(d.v)} fill={d.color} />
      ))}
      {seimGroups.map((g, i) => {
        const keys = flat.filter(d => d.g === i).map(d => (x(d.key) || 0) + x.bandwidth() / 2);
        return <Lines key={g} x={d3.mean(keys)} y={1314} lines={[g]} anchor="middle" size={5} />;
      })}
    </g>
  );
}

function Eoan() {
  return (
    <g>
      <rect x={27} y={1250} width={308} height={262} fill={PANEL} />
      <rect x={27} y={1250} width={308} height={25} fill={BAND} />
      <Title x={40} y={1265} size={7}>Eoanuh Rahnlane Foamons Ronlesnnanes</Title>
      <Lines x={326} y={1265} lines={['Sr Lsnsn Bnsl']} anchor="end" size={5} />
      <Lines x={45} y={1294} lines={['Ssnsn Snsns']} size={5} />
      <Pie cx={168} cy={1405} r={107} values={eoanValues} colors={eoanColors} labels={eoanLabels} sw={0.6} />
      <Lines x={52} y={1480} lines={['Eslsnsn']} size={5} />
      <line x1={258} y1={1478} x2={268} y2={1484} stroke="#b9b9b5" strokeWidth={0.6} />
      <Lines x={272} y={1482} lines={['Lsnsnsn', 'snsnsn']} size={5} gap={7} />
    </g>
  );
}

function Resn() {
  const x = d3.scaleBand<string>().domain(resnCats).range([392, 724]).padding(0.3);
  const y = d3.scaleLinear().domain([0, 150]).range([1470, 1320]);
  return (
    <g>
      <rect x={350} y={1250} width={405} height={262} fill={BAND} />
      <rect x={357} y={1278} width={392} height={230} fill={PANEL} />
      <Title x={358} y={1265} size={7}>Resnuhy Gromon'weiter</Title>
      <Lines x={742} y={1265} lines={['Acosm Rhs']} anchor="end" size={5} />
      <Lines x={365} y={1293} lines={['Relsand alarmure']} size={5.5} fill="#777" />
      {resnTicks.map((t, i) => (
        <g key={t}>
          <line x1={392} y1={y(t)} x2={728} y2={y(t)} stroke="#e4e4e0" strokeWidth={0.8} />
          <Lines x={384} y={y(t) + 2} lines={[resnTickLabels[i]]} anchor="end" size={4.5} />
        </g>
      ))}
      {resnCats.map((c, i) => (
        <g key={c}>
          <rect x={x(c)} y={y(resnValues[i])} width={x.bandwidth()} height={y(0) - y(resnValues[i])} fill={resnColors[i]} />
          <Lines x={(x(c) || 0) + x.bandwidth() / 2} y={1482} lines={[c]} anchor="middle" size={5} />
        </g>
      ))}
      <Lines x={545} y={1496} lines={['Wsnsnsnslnsnsns Dsnsnsn']} anchor="middle" size={5} />
    </g>
  );
}

function DataPanel() {
  const x = d3.scaleBand<string>().domain(dataCats).range([812, 1110]).padding(0.33);
  const y = d3.scaleLinear().domain([0, 88]).range([1462, 1374]);
  return (
    <g>
      <rect x={770} y={1343} width={373} height={169} fill={PANEL} />
      <Title x={786} y={1360} size={7}>Dataov shortng</Title>
      {dataTicks.map((t, i) => (
        <g key={t}>
          <line x1={812} y1={y(t)} x2={1112} y2={y(t)} stroke="#e4e4e0" strokeWidth={0.8} />
          <Lines x={806} y={y(t) + 2} lines={[dataTickLabels[i]]} anchor="end" size={4.5} />
        </g>
      ))}
      {dataCats.map((c, i) => (
        <g key={c}>
          <rect x={x(c)} y={y(dataValues[i])} width={x.bandwidth()} height={y(0) - y(dataValues[i])} fill={dataColors[i]} />
          <Lines x={(x(c) || 0) + x.bandwidth() / 2} y={1474} lines={[c]} anchor="middle" size={5} />
        </g>
      ))}
      <rect x={916} y={1490} width={6} height={6} fill={C.red} />
      <rect x={925} y={1490} width={6} height={6} fill={C.green} />
      <Lines x={935} y={1496} lines={['Wsnsnsnsn snsnsnsn']} size={5} />
    </g>
  );
}

function AreaPanel() {
  const x = d3.scaleLinear().domain([0, 11]).range([1205, 1478]);
  const y = d3.scaleLinear().domain([0, 115]).range([1442, 1327]);
  const orangeArea = d3.area<number>().x((_, i) => x(areaOrangeX[i])).y0(y(0)).y1(d => y(d));
  const tealArea = d3.area<number>().x((_, i) => x(areaX[i])).y0(y(0)).y1(d => y(d)).curve(d3.curveMonotoneX);
  return (
    <g>
      <rect x={1162} y={1250} width={346} height={262} fill={PANEL} />
      <rect x={1162} y={1250} width={346} height={38} fill={BAND} />
      <Title x={1173} y={1269} size={7.5}>Sueantizdio Rotroossahnahne</Title>
      <Lines x={1494} y={1268} lines={['Sgsnsn sTSs TSS']} anchor="end" size={4.5} />
      {areaTicks.map((t, i) => (
        <g key={t}>
          {t >= 0 && <line x1={1205} y1={y(t)} x2={1480} y2={y(t)} stroke="#e2e2de" strokeWidth={0.8} />}
          <Lines x={1194} y={y(t) + 2} lines={[areaTickLabels[i]]} anchor="end" size={4.5} />
        </g>
      ))}
      <line x1={1205} y1={1327} x2={1205} y2={1442} stroke="#e2e2de" />
      <path d={orangeArea(areaOrange) || ''} fill={C.orange} />
      <path d={tealArea(areaTeal) || ''} fill={C.blue} />
      {areaX.slice(1, -1).map((v, i) => (
        <line key={i} x1={x(v)} y1={y(0)} x2={x(v)} y2={y(areaTeal[i + 1]) + 2} stroke="#5fc0d2" strokeWidth={0.8} />
      ))}
      <line x1={1205} y1={y(0)} x2={1480} y2={y(0)} stroke="#d6d6d2" />
      {areaXLabels.map((l, i) => (
        <Lines key={i} x={x(areaXLabelPos[i])} y={1452} lines={l} anchor="middle" size={4.5} gap={8} />
      ))}
      <Lines x={1173} y={1484} lines={['Tsnsnsn snsnsn sns s snsn snsnsn. snsnsl snsnsnsn snsns snsns snsn snsnsn snsnsnsn. Csnsnsn snsns snsn snsnsns', 'Snsnsnsnsnsn snsnsnsnsnsnsnsn snsnsnsnsn snsnsn snsnsn']} size={4.3} gap={10} />
    </g>
  );
}

export default function App() {
  return (
    <svg width={1536} height={1536} viewBox="0 0 1536 1536" style={{ position: 'absolute', left: 0, top: 0, display: 'block' }} fontFamily={FONT}>
      <rect width={1536} height={1536} fill={BG} />
      <Acemis />
      <Cesnorl />
      <Slosnsr />
      <Dwunpmd />
      <Sonis />
      <Table />
      <Scostal />
      <PackIcon />
      <MiniPie />
      <Ofaug />
      <Strax />
      <Dano />
      <Roktg />
      <SmallNote />
      <Carn />
      <Keos />
      <Dlss />
      <Dact />
      <Flane />
      <Sonp />
      <Eoum />
      <Ice />
      <Esno />
      <Seim />
      <Eoan />
      <Resn />
      <DataPanel />
      <AreaPanel />
    </svg>
  );
}
